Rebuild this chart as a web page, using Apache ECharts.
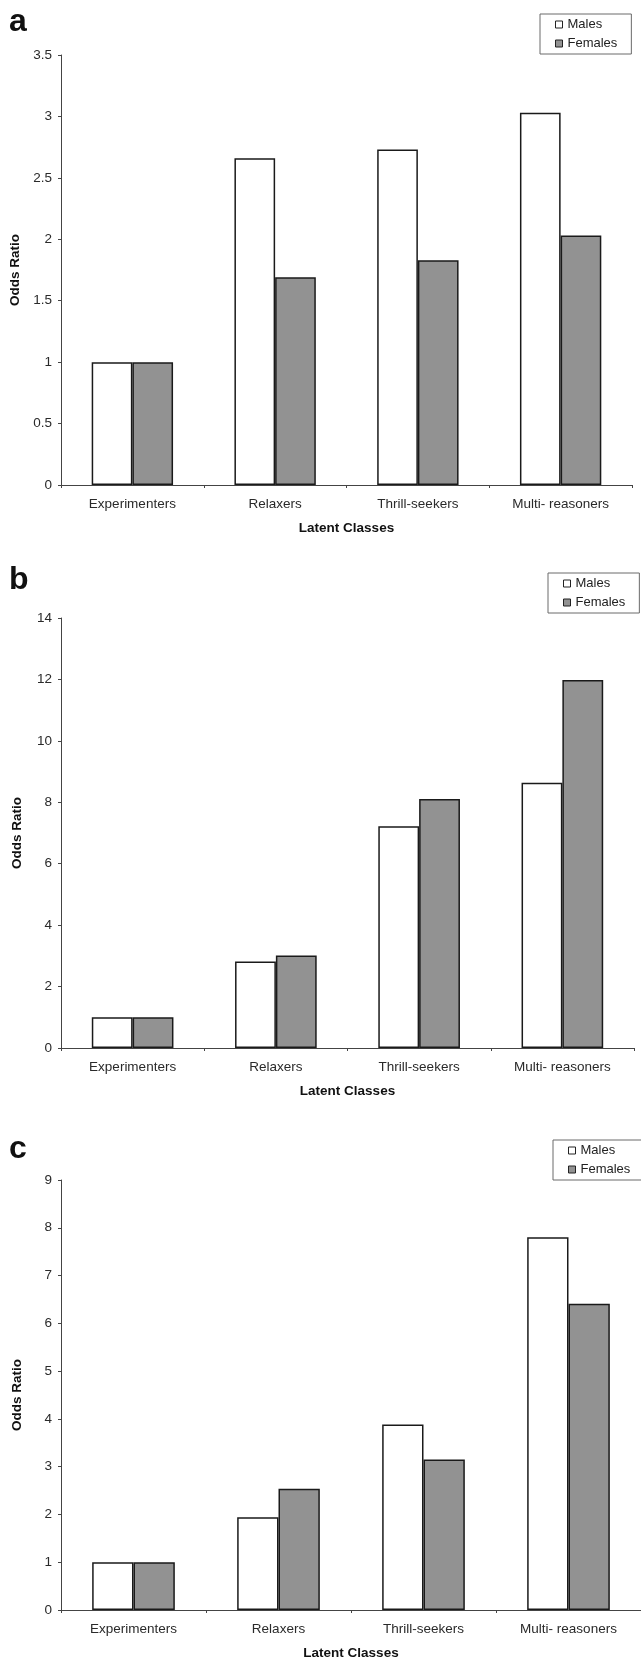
<!DOCTYPE html>
<html>
<head>
<meta charset="utf-8">
<script src="https://cdn.jsdelivr.net/npm/echarts@6/dist/echarts.min.js"></script>
<style>
  html, body { margin: 0; padding: 0; background: #fff; }
  #main { width: 641px; height: 1662px; }
</style>
</head>
<body>
<div id="main"></div>
<script>
// 潜在类别
var categories = ['Experimenters', 'Relaxers', 'Thrill-seekers', 'Multi- reasoners'];
var seriesNames = ['Males', 'Females'];
var panelLetters = ['a', 'b', 'c'];

// 各面板数据（Odds Ratio）
var malesA = [1.0, 2.66, 2.73, 3.03];
var femalesA = [1.0, 1.69, 1.83, 2.03];
var malesB = [1.0, 2.82, 7.22, 8.64];
var femalesB = [1.0, 3.01, 8.11, 11.98];
var malesC = [1.0, 1.94, 3.88, 7.80];
var femalesC = [1.0, 2.54, 3.15, 6.41];

// 纵轴刻度
var yMax = [3.5, 14, 9];
var yStep = [0.5, 2, 1];

var chart = null;
var font = 'Liberation Sans, Arial, Helvetica, sans-serif';

// 每个面板的位置
var panels = [
    {grid: {left: 61, top: 55, width: 571, height: 430}, legend: {left: 540, top: 14}, letterTop: 6},
    {grid: {left: 61, top: 618, width: 573, height: 430}, legend: {left: 548, top: 573}, letterTop: 564},
    {grid: {left: 61, top: 1180, width: 584, height: 430}, legend: {left: 553, top: 1140}, letterTop: 1133}
];

var data = [[malesA, femalesA], [malesB, femalesB], [malesC, femalesC]];

function initChart() {
    chart = echarts.init(document.getElementById('main'));

    var grids = [], xAxes = [], yAxes = [], series = [], legends = [], titles = [];

    for (var i = 0; i < panels.length; i++) {
        grids.push(panels[i].grid);

        // 面板字母 a / b / c
        titles.push({
            text: panelLetters[i],
            left: 9,
            top: panels[i].letterTop,
            padding: 0,
            textStyle: {color: '#111', fontSize: 32, fontWeight: 'bold', fontFamily: font}
        });

        legends.push({
            data: seriesNames,
            orient: 'vertical',
            left: panels[i].legend.left,
            top: panels[i].legend.top,
            padding: [3, 14, 3, 15],
            itemGap: 4,
            itemWidth: 7,
            itemHeight: 7,
            icon: 'rect',
            selectedMode: false,
            borderColor: '#6a6a6a',
            borderWidth: 1,
            itemStyle: {borderColor: '#222', borderWidth: 1},
            textStyle: {color: '#222', fontSize: 13, lineHeight: 15, fontFamily: font}
        });

        xAxes.push({
            type: 'category',
            gridIndex: i,
            data: categories,
            name: 'Latent Classes',
            nameLocation: 'middle',
            nameGap: 36,
            nameTextStyle: {color: '#111', fontSize: 13.5, fontWeight: 'bold', fontFamily: font},
            axisLine: {lineStyle: {color: '#444', width: 1}},
            axisTick: {show: true, length: 3, lineStyle: {color: '#444'}},
            axisLabel: {color: '#2a2a2a', fontSize: 13.5, margin: 12, interval: 0, fontFamily: font}
        });

        yAxes.push({
            type: 'value',
            gridIndex: i,
            min: 0,
            max: yMax[i],
            interval: yStep[i],
            name: 'Odds Ratio',
            nameLocation: 'middle',
            nameRotate: 90,
            nameGap: 37,
            nameTextStyle: {color: '#111', fontSize: 13.5, fontWeight: 'bold', fontFamily: font},
            axisLine: {show: true, lineStyle: {color: '#444', width: 1}},
            axisTick: {show: true, length: 3, lineStyle: {color: '#444'}},
            axisLabel: {color: '#2a2a2a', fontSize: 13.5, margin: 9, fontFamily: font},
            splitLine: {show: false}
        });

        series.push({
            name: 'Males',
            type: 'bar',
            xAxisIndex: i,
            yAxisIndex: i,
            data: data[i][0],
            barGap: '0%',
            barCategoryGap: '43%',
            itemStyle: {color: '#ffffff', borderColor: '#1a1a1a', borderWidth: 1.5}
        });
        series.push({
            name: 'Females',
            type: 'bar',
            xAxisIndex: i,
            yAxisIndex: i,
            data: data[i][1],
            barGap: '0%',
            barCategoryGap: '43%',
            itemStyle: {color: '#929292', borderColor: '#1a1a1a', borderWidth: 1.5}
        });
    }

    var option = {
        animation: false,
        backgroundColor: '#ffffff',
        title: titles,
        legend: legends,
        grid: grids,
        xAxis: xAxes,
        yAxis: yAxes,
        series: series
    };

    chart.setOption(option);
}

initChart();
</script>
</body>
</html>
